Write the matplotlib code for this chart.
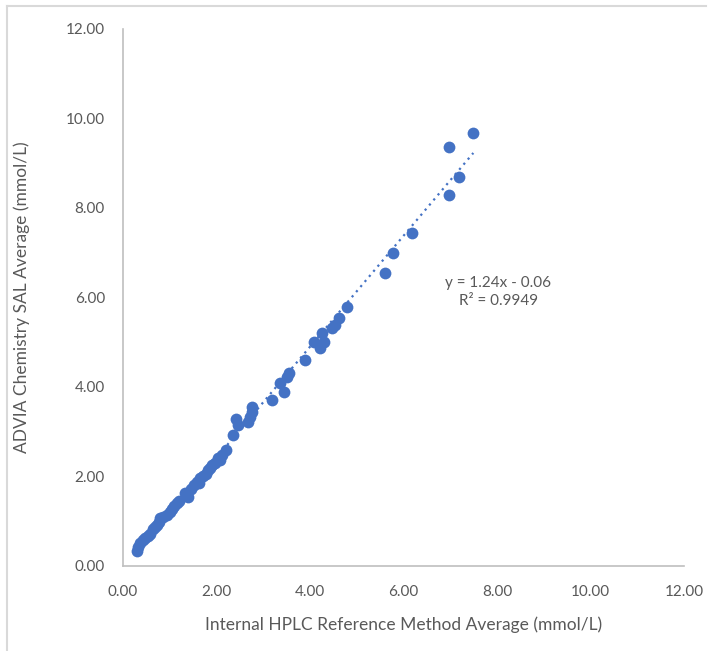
# ADVIA Chemistry SAL vs internal HPLC reference method

import matplotlib.pyplot as plt
from matplotlib.lines import Line2D
import numpy as np

hplc = [0.30, 0.33, 0.36, 0.42, 0.47, 0.53, 0.58, 0.64, 0.68, 0.72, 0.76, 0.79,
        0.86, 0.94, 1.00, 1.05, 1.10, 1.15, 1.20, 1.33, 1.39, 1.45, 1.52, 1.58,
        1.62, 1.65, 1.72, 1.78, 1.82, 1.86, 1.90, 1.97, 2.03, 2.07, 2.11, 2.20,
        2.35, 2.42, 2.46, 2.67, 2.72, 2.76, 2.76, 3.19, 3.36, 3.44, 3.51, 3.55,
        3.89, 4.09, 4.21, 4.26, 4.30, 4.47, 4.53, 4.62, 4.79, 5.60, 5.78, 6.18,
        6.97, 6.97, 7.19, 7.49]
advia = [0.34, 0.42, 0.51, 0.58, 0.63, 0.68, 0.72, 0.83, 0.86, 0.92, 0.98, 1.07,
         1.09, 1.14, 1.20, 1.27, 1.33, 1.41, 1.45, 1.63, 1.54, 1.72, 1.80, 1.88,
         1.85, 1.97, 2.02, 2.06, 2.15, 2.20, 2.26, 2.30, 2.41, 2.37, 2.48, 2.59,
         2.93, 3.28, 3.15, 3.22, 3.33, 3.55, 3.45, 3.71, 4.09, 3.89, 4.22, 4.31,
         4.60, 5.01, 4.87, 5.21, 5.01, 5.32, 5.39, 5.54, 5.79, 6.55, 6.99, 7.44,
         9.36, 8.29, 8.69, 9.68]

slope = 1.24
intercept = -0.06
eq_text = 'y = 1.24x - 0.06\nR² = 0.9949'

ticks = [0, 2, 4, 6, 8, 10, 12]
blue = '#4472C4'
grey = '#595959'
plt.rcParams['font.family'] = ['Lato', 'DejaVu Sans']

fig = plt.figure(figsize=(7.15, 6.51), dpi=100)
ax = fig.add_axes([0.172, 0.1306, 0.785, 0.825])

ax.scatter(hplc, advia, s=72, color=blue, zorder=3, linewidths=0)
xs = np.array([min(hplc), max(hplc)])
ax.plot(xs, slope * xs + intercept, linestyle=(0, (1, 2)), color=blue, lw=1.6, zorder=2)

ax.text(8.02, 6.12, eq_text, ha='center', va='center', fontsize=11,
        color=grey, linespacing=1.4)

ax.set_xlim(0, 12)
ax.set_ylim(0, 12)
ax.set_xticks(ticks)
ax.set_yticks(ticks)
ax.set_xticklabels([f'{t:.2f}' for t in ticks])
ax.set_yticklabels([f'{t:.2f}' for t in ticks])
ax.tick_params(length=0, labelsize=11, colors=grey)
ax.tick_params(axis='y', pad=13)
ax.tick_params(axis='x', pad=14)
for side in ['top', 'right']:
    ax.spines[side].set_visible(False)
for side in ['left', 'bottom']:
    ax.spines[side].set_color('#bfbfbf')
    ax.spines[side].set_linewidth(1.2)

ax.set_xlabel('Internal HPLC Reference Method Average (mmol/L)', fontsize=12.5,
              color=grey, labelpad=12)
ax.set_ylabel('ADVIA Chemistry SAL Average (mmol/L)', fontsize=12.5,
              color=grey, labelpad=26)

# outer chart border (only top and left show in the crop)
fig.add_artist(Line2D([7 / 715, 706 / 715], [1 - 6 / 651, 1 - 6 / 651],
                      color='#d9d9d9', lw=1.5, transform=fig.transFigure))
fig.add_artist(Line2D([7 / 715, 7 / 715], [0, 1 - 6 / 651],
                      color='#d9d9d9', lw=1.5, transform=fig.transFigure))

fig.savefig('out.png', dpi=100)
